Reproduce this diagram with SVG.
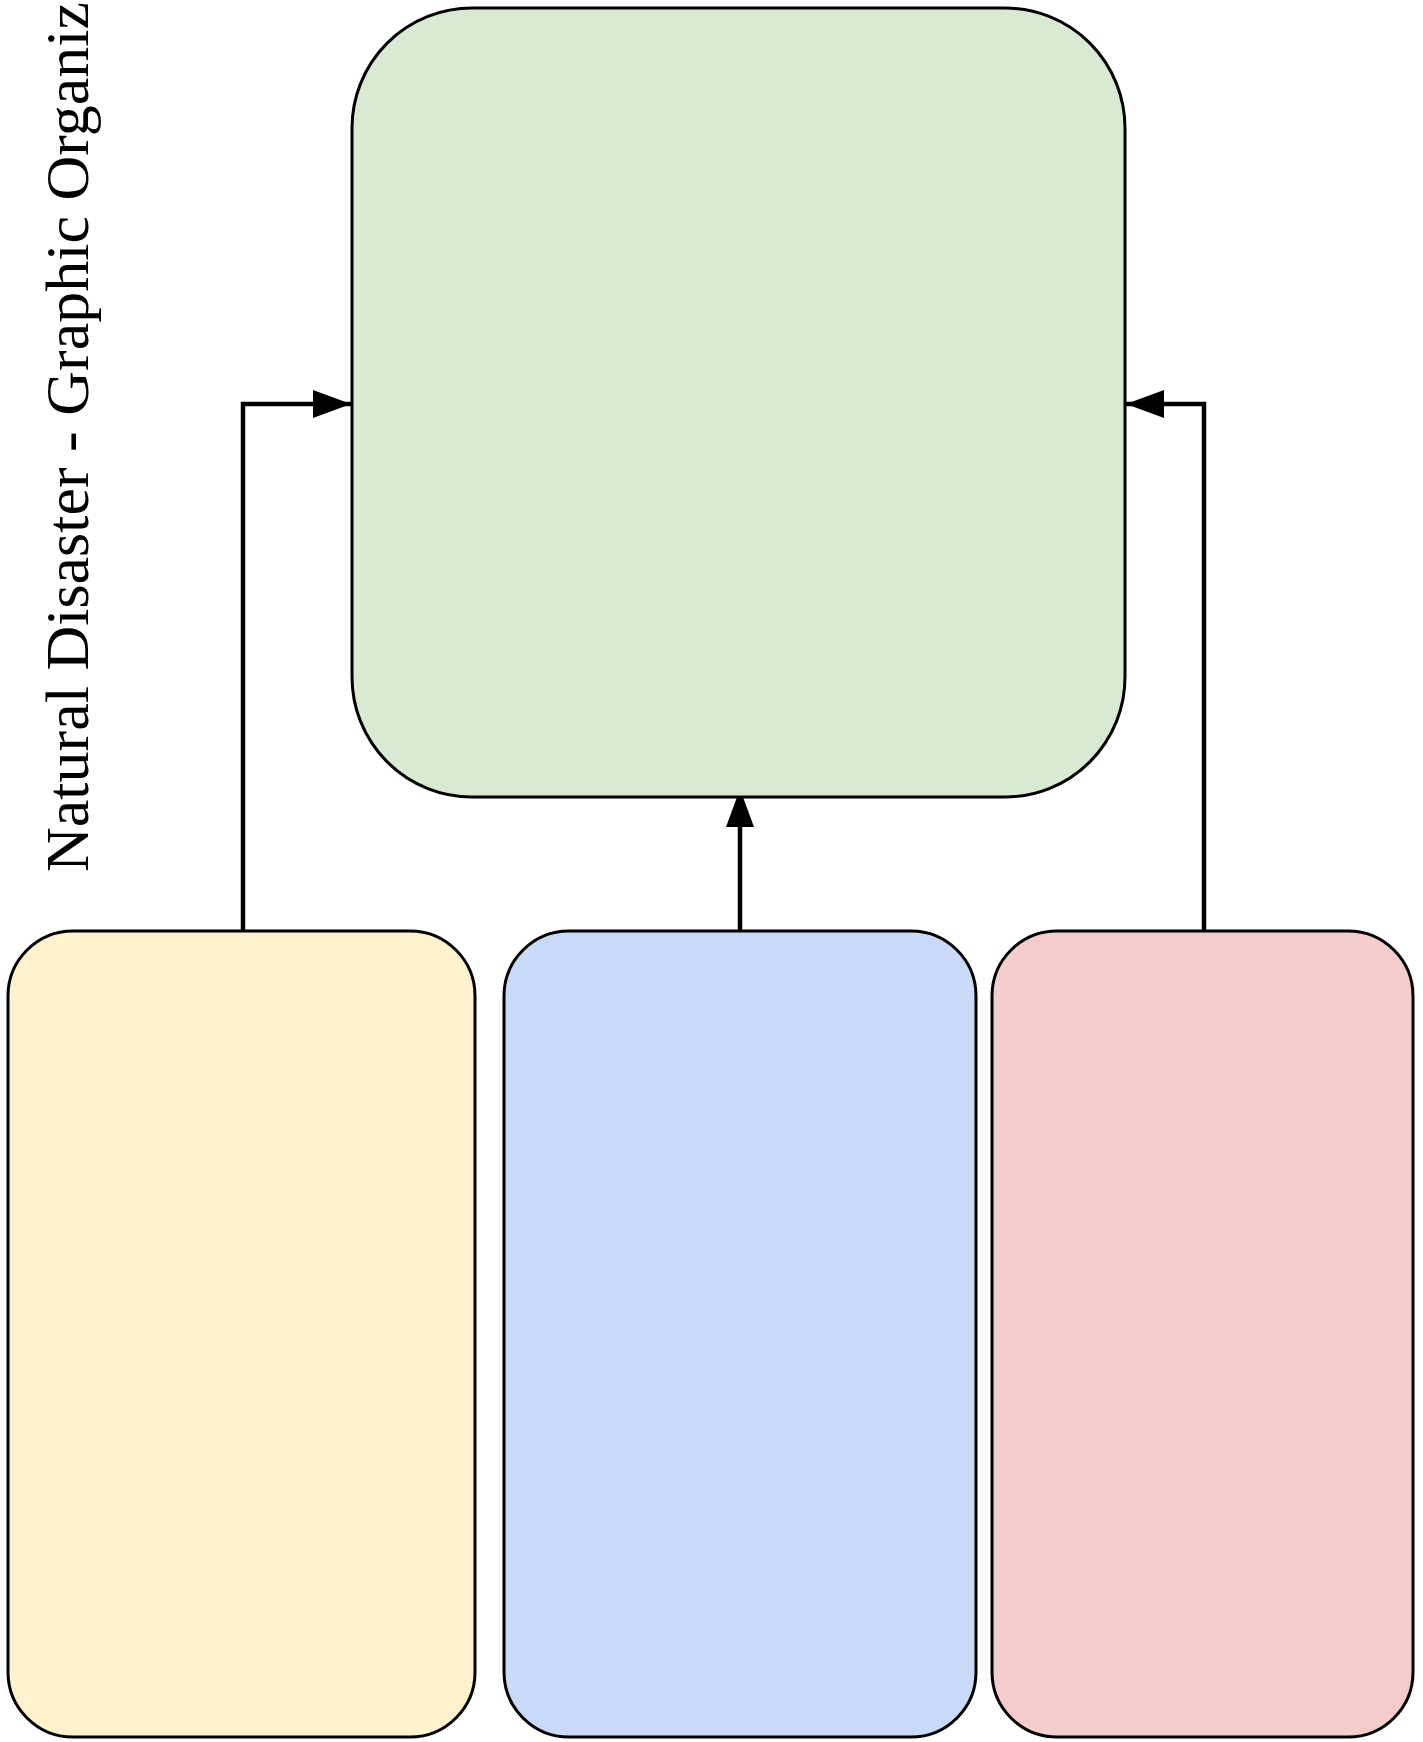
<svg xmlns="http://www.w3.org/2000/svg" width="1423" height="1742" viewBox="0 0 1423 1742">
<style>
.box{stroke:#000;stroke-width:3}
.conn{fill:none;stroke:#000;stroke-width:4.5}
.title{font-family:"Liberation Serif","Times New Roman",serif;font-size:62px;fill:#000}
</style>
<defs>
<marker id="arrow" markerUnits="userSpaceOnUse" markerWidth="40" markerHeight="28" refX="38" refY="14" orient="auto">
<path d="M0,0 L38,14 L0,28 Z" fill="#000"/>
</marker>
</defs>
<rect width="1423" height="1742" fill="#fff"/>
<g id="title">
<text class="title" transform="translate(88,872) rotate(-90)">Natural Disaster - Graphic Organiz</text>
</g>
<g id="connectors">
<path class="conn" d="M243,931 V404 H351" marker-end="url(#arrow)"/>
<path class="conn" d="M740,931 V789" marker-end="url(#arrow)"/>
<path class="conn" d="M1204,931 V404 H1126" marker-end="url(#arrow)"/>
</g>
<g id="center">
<rect class="box" x="352" y="8" width="773" height="789" rx="120" ry="120" fill="#d9ead3"/>
</g>
<g id="left">
<rect class="box" x="8" y="931" width="467" height="806" rx="65" ry="65" fill="#fff2cc"/>
</g>
<g id="middle">
<rect class="box" x="504" y="931" width="472" height="806" rx="65" ry="65" fill="#c9daf8"/>
</g>
<g id="right">
<rect class="box" x="992" y="931" width="421" height="806" rx="65" ry="65" fill="#f4cccc"/>
</g>
</svg>
